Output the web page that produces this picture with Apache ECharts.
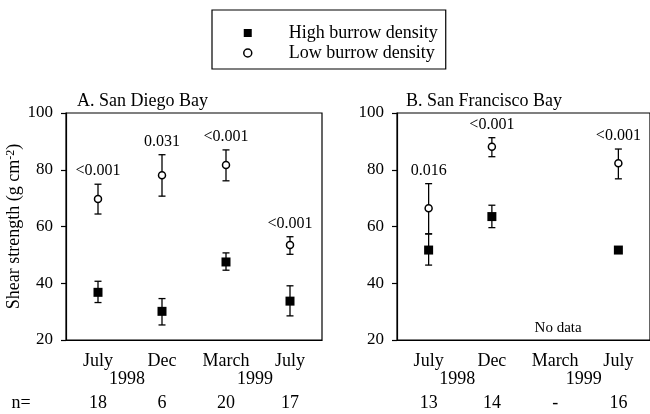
<!DOCTYPE html>
<html>
<head>
<meta charset="utf-8">
<script src="https://cdn.jsdelivr.net/npm/echarts@6/dist/echarts.min.js"></script>
<style>html,body{margin:0;padding:0;background:#fff}#c{width:650px;height:414px}</style>
</head>
<body>
<div id="c"></div>
<script>
// ---- data ----
const categories = ['July', 'Dec', 'March', 'July'];
const years = ['1998', '1999'];
const panelTitles = ['A. San Diego Bay', 'B. San Francisco Bay'];

const sdHigh   = [36.8, 30.1, 47.5, 33.7];
const sdHighLo = [33.2, 25.3, 44.6, 28.5];
const sdHighHi = [40.7, 34.6, 50.7, 39.1];
const sdLow    = [69.7, 78.1, 81.7, 53.5];
const sdLowLo  = [64.4, 70.7, 76.1, 50.2];
const sdLowHi  = [74.9, 85.3, 87.0, 56.4];
const sdP      = ['<0.001', '0.031', '<0.001', '<0.001'];
const sdN      = ['18', '6', '20', '17'];

const sfHigh   = [51.7, 63.5, null, 51.7];
const sfHighLo = [46.4, 59.6, null, null];
const sfHighHi = [57.4, 67.5, null, null];
const sfLow    = [66.4, 88.1, null, 82.3];
const sfLowLo  = [57.4, 84.6, null, 76.8];
const sfLowHi  = [75.1, 91.3, null, 87.3];
const sfP      = ['0.016', '<0.001', '', '<0.001'];
const sfN      = ['13', '14', '-', '16'];
const sfMissingText = 'No data';
const sfMissingIndex = 2;

const yTicks = [20, 40, 60, 80, 100];

// ---- chart ----
const FONT = 'Liberation Serif';
const chart = echarts.init(document.getElementById('c'), null, {renderer: 'canvas'});

const panels = [
  {high: sdHigh, hLo: sdHighLo, hHi: sdHighHi, low: sdLow, lLo: sdLowLo, lHi: sdLowHi, p: sdP, n: sdN},
  {high: sfHigh, hLo: sfHighLo, hHi: sfHighHi, low: sfLow, lLo: sfLowLo, lHi: sfLowHi, p: sfP, n: sfN}
];

function errRender(params, api) {
  const lo = api.value(1), hi = api.value(2);
  if (lo == null || hi == null || isNaN(lo) || isNaN(hi)) return;
  const i = api.value(0);
  const a = api.coord([i, lo]), b = api.coord([i, hi]);
  const w = 3.5;
  const st = {stroke: '#000', lineWidth: 1.3};
  return {type: 'group', children: [
    {type: 'line', shape: {x1: a[0], y1: a[1], x2: b[0], y2: b[1]}, style: st},
    {type: 'line', shape: {x1: a[0]-w, y1: a[1], x2: a[0]+w, y2: a[1]}, style: st},
    {type: 'line', shape: {x1: b[0]-w, y1: b[1], x2: b[0]+w, y2: b[1]}, style: st}
  ]};
}

const grids = [
  {left: 66, top: 113, width: 256, height: 227, show: true, borderColor: '#000', borderWidth: 1.2, backgroundColor: 'transparent'},
  {left: 397, top: 113, width: 256, height: 227, show: true, borderColor: '#000', borderWidth: 1.2, backgroundColor: 'transparent'}
];
const xAxes = [0, 1].map(g => ({
  type: 'category', gridIndex: g, data: categories, boundaryGap: true,
  axisLine: {lineStyle: {color: '#000', width: 1.2}},
  axisTick: {alignWithLabel: true, length: 6, lineStyle: {color: '#000', width: 1.2}},
  axisLabel: {color: '#000', fontFamily: FONT, fontSize: 18, margin: 12},
  splitLine: {show: false}
}));
const yAxes = [0, 1].map(g => ({
  type: 'value', gridIndex: g, min: yTicks[0], max: yTicks[yTicks.length-1], interval: 20,
  axisLine: {show: true, lineStyle: {color: '#000', width: 1.2}},
  axisTick: {show: true, length: 5, lineStyle: {color: '#000', width: 1.2}},
  axisLabel: {color: '#000', fontFamily: FONT, fontSize: 17, margin: 13},
  splitLine: {show: false},
  name: g === 0 ? '{a|Shear strength (g cm}{s|-2}{a|)}' : '',
  nameLocation: 'middle', nameGap: 38, nameRotate: 90,
  nameTextStyle: {rich: {
    a: {fontFamily: FONT, fontSize: 18, color: '#000'},
    s: {fontFamily: FONT, fontSize: 12, color: '#000', verticalAlign: 'top', padding: [0, 0, 8, 0]}
  }}
}));

const series = [];
// error bars
panels.forEach((p, g) => {
  series.push({type: 'custom', xAxisIndex: g, yAxisIndex: g, z: 2, renderItem: errRender, silent: true,
    encode: {x: 0, y: [1, 2]}, data: p.hLo.map((v, i) => [i, v == null ? '-' : v, p.hHi[i] == null ? '-' : p.hHi[i]])});
  series.push({type: 'custom', xAxisIndex: g, yAxisIndex: g, z: 2, renderItem: errRender, silent: true,
    encode: {x: 0, y: [1, 2]}, data: p.lLo.map((v, i) => [i, v == null ? '-' : v, p.lHi[i] == null ? '-' : p.lHi[i]])});
});
// markers
panels.forEach((p, g) => {
  series.push({name: 'High burrow density', type: 'scatter', xAxisIndex: g, yAxisIndex: g, z: 5,
    symbol: 'rect', symbolSize: 9, itemStyle: {color: '#000', opacity: 1},
    data: p.high.map(v => v == null ? '-' : v)});
  series.push({name: 'Low burrow density', type: 'scatter', xAxisIndex: g, yAxisIndex: g, z: 5,
    symbol: 'circle', symbolSize: 7, itemStyle: {color: '#fff', borderColor: '#000', borderWidth: 1.5, opacity: 1},
    data: p.low.map(v => v == null ? '-' : v)});
});
// p-value labels, placed above the top of the low-density error bar
panels.forEach((p, g) => {
  series.push({
    type: 'custom', xAxisIndex: g, yAxisIndex: g, z: 3, silent: true,
    encode: {x: 0, y: 1},
    data: p.lHi.map((v, i) => [i, v == null ? '-' : Math.max(v, p.low[i])]),
    renderItem: function (params, api) {
      const top = api.value(1);
      if (top == null || isNaN(top)) return;
      const pt = api.coord([api.value(0), top]);
      return {type: 'text', style: {text: p.p[params.dataIndex], x: pt[0], y: pt[1] - 13,
        align: 'center', verticalAlign: 'middle', font: '16px "' + FONT + '"', fill: '#000'}};
    }
  });
});

const option = {
  animation: false,
  backgroundColor: '#fff',
  textStyle: {fontFamily: FONT},
  title: panelTitles.map((t, g) => ({
    text: t, left: g === 0 ? 72 : 401, top: 87,
    textStyle: {fontFamily: FONT, fontSize: 18, fontWeight: 'normal', color: '#000'}
  })),
  legend: {
    orient: 'vertical', left: 212, top: 10,
    borderColor: '#000', borderWidth: 1.2, padding: [14, 8, 7, 31],
    itemGap: 2, itemWidth: 8, itemHeight: 8,
    textStyle: {fontFamily: FONT, fontSize: 18, color: '#000', padding: [0, 0, 0, 32], lineHeight: 18},
    data: [
      {name: 'High burrow density', icon: 'rect', itemStyle: {color: '#000'}},
      {name: 'Low burrow density', icon: 'circle', itemStyle: {color: '#fff', borderColor: '#000', borderWidth: 1.5}}
    ]
  },
  grid: grids,
  xAxis: xAxes,
  yAxis: yAxes,
  series: series
};
chart.setOption(option);

// ---- text rows under axes (years, n values, "No data") ----
const graphics = [];
const txt = (s, x, y, size) => ({type: 'text', silent: true, style: {text: s, x: x, y: y, align: 'center', verticalAlign: 'middle',
  font: (size || 18) + 'px "' + FONT + '"', fill: '#000'}});
panels.forEach((p, g) => {
  const base = chart.convertToPixel({gridIndex: g}, [0, yTicks[0]])[1];
  years.forEach((yr, k) => {
    const a = chart.convertToPixel({gridIndex: g}, [2 * k, yTicks[0]])[0];
    const b = chart.convertToPixel({gridIndex: g}, [2 * k + 1, yTicks[0]])[0];
    graphics.push(txt(yr, (a + b) / 2 - 3, base + 39));
  });
  p.n.forEach((n, i) => {
    const x = chart.convertToPixel({gridIndex: g}, [i, yTicks[0]])[0];
    graphics.push(txt(n, x, base + 63));
  });
});
graphics.push(txt('n=', 21, chart.convertToPixel({gridIndex: 0}, [0, yTicks[0]])[1] + 63));
{
  const pt = chart.convertToPixel({gridIndex: 1}, [sfMissingIndex, yTicks[0]]);
  graphics.push(txt(sfMissingText, pt[0] + 3, pt[1] - 12, 15));
}
chart.setOption({graphic: graphics});
</script>
</body>
</html>
